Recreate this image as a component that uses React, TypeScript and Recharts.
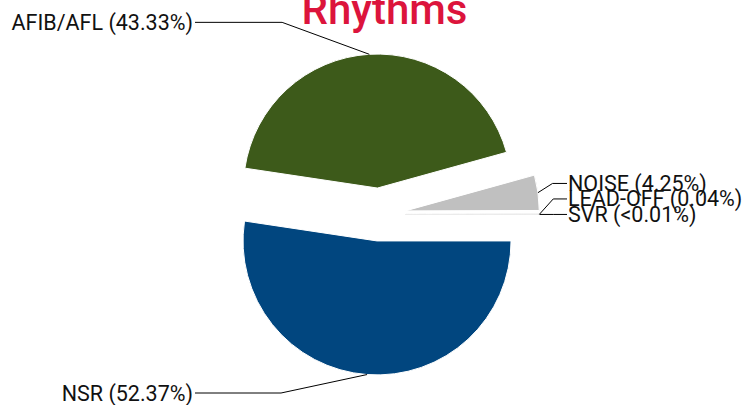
import React from 'react';
import { PieChart, Pie, Cell } from 'recharts';

const categories = ['NSR', 'AFIB/AFL', 'NOISE', 'LEAD-OFF', 'SVR'];
const values = [52.37, 43.33, 4.25, 0.04, 0.01];
const labelTexts = ['NSR (52.37%)', 'AFIB/AFL (43.33%)', 'NOISE (4.25%)', 'LEAD-OFF (0.04%)', 'SVR (<0.01%)'];
const colors = ['#01467f', '#3d5a1a', '#c0c0c0', '#e0e0e0', '#ececec'];
const title = 'Rhythms';

const W = 755;
const H = 405;
const CX = 379;
const CY = 214.5;
const R = 134;
const SLICE_OFFSET = 26.5;
const LABEL_DIST = 32;
const LABEL_SPACING = 15.5;
const RAD = Math.PI / 180;

const data = categories.map((name, i) => ({ name, value: values[i] }));
const total = values.reduce((a, b) => a + b, 0);

const midAngles = values.map((v, i) => {
  const before = values.slice(0, i).reduce((a, b) => a + b, 0);
  return -((before + v / 2) / total) * 360;
});
const offsets = midAngles.map((a) => ({
  dx: SLICE_OFFSET * Math.cos(-a * RAD),
  dy: SLICE_OFFSET * Math.sin(-a * RAD),
}));
const sides = midAngles.map((a) => (Math.cos(-a * RAD) >= 0 ? 'right' : 'left'));

const labelYs: number[] = (() => {
  const ys = new Array(values.length).fill(0);
  const ideal = midAngles.map((a, i) => CY + offsets[i].dy + (R + LABEL_DIST) * Math.sin(-a * RAD));
  for (const side of ['left', 'right']) {
    const idx = values
      .map((_, i) => i)
      .filter((i) => sides[i] === side)
      .sort((p, q) => ideal[q] - ideal[p]);
    let prev = Infinity;
    idx.forEach((i) => {
      let y = Math.min(ideal[i], H - 12, prev - LABEL_SPACING);
      y = Math.max(y, 12);
      ys[i] = y;
      prev = y;
    });
  }
  return ys;
})();

const makeLabel = (slice: number) => (props: any) => {
  const { cx, cy, midAngle, outerRadius, index } = props;
  if (index !== slice) return <g />;
  const ang = -midAngle * RAD;
  const ex = cx + outerRadius * Math.cos(ang);
  const ey = cy + outerRadius * Math.sin(ang);
  const right = sides[index] === 'right';
  const endX = right ? CX + R + 54 : CX - R - 50;
  const y = labelYs[index];
  const crookX = (ex + endX) / 2;
  return (
    <g>
      <path d={`M${ex},${ey}L${crookX},${y}L${endX},${y}`} stroke="#000" fill="none" strokeWidth={1} />
      <text
        x={right ? endX + 1 : endX - 2}
        y={y + 7.5}
        textAnchor={right ? 'start' : 'end'}
        fontFamily="Roboto, sans-serif"
        fontSize={21.5}
        fill="#111"
        stroke="none"
      >
        {labelTexts[index]}
      </text>
    </g>
  );
};

export default function App() {
  return (
    <div style={{ position: 'absolute', left: 0, top: 0, width: W, height: H, background: '#fff' }}>
      <PieChart width={W} height={H} margin={{ top: 0, right: 0, bottom: 0, left: 0 }}>
        {data.map((_, s) => (
          <Pie
            key={`pie-${s}`}
            data={data}
            dataKey="value"
            nameKey="name"
            cx={CX + offsets[s].dx}
            cy={CY + offsets[s].dy}
            innerRadius={0}
            outerRadius={R}
            startAngle={0}
            endAngle={-360}
            isAnimationActive={false}
            labelLine={false}
            label={makeLabel(s)}
          >
            {data.map((d, i) => (
              <Cell
                key={`c-${s}-${i}`}
                fill={i === s ? colors[i] : 'none'}
                stroke={i === s ? (i >= 3 ? colors[i] : '#ffffff') : 'none'}
                strokeWidth={i === s ? (i >= 3 ? 0.6 : 1) : 0}
              />
            ))}
          </Pie>
        ))}
      </PieChart>
      <svg
        width={W}
        height={H}
        style={{ position: 'absolute', left: 0, top: 0, pointerEvents: 'none' }}
      >
        <text
          x={384.5}
          y={24}
          textAnchor="middle"
          fontFamily="Roboto, sans-serif"
          fontSize={42}
          fontWeight={500}
          fill="#dc143c"
        >
          {title}
        </text>
      </svg>
    </div>
  );
}
